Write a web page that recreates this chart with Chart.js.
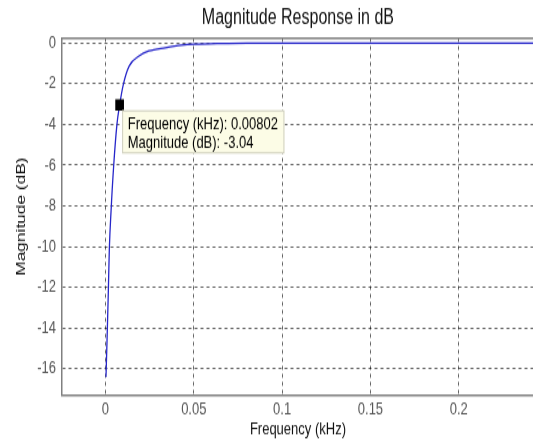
<!DOCTYPE html>
<html>
<head>
<meta charset="utf-8">
<script src="https://cdn.jsdelivr.net/npm/chart.js@4.4.1/dist/chart.umd.min.js"></script>
<style>
  html, body { margin: 0; padding: 0; background: #fff; overflow: hidden; }
  #wrap { width: 533px; height: 441px; overflow: hidden; }
  /* the reference picture is stretched vertically, so stretch the canvas the same way */
  #chart { transform: scale(1, 1.3323); transform-origin: 0 0; }
</style>
</head>
<body>
<div id="wrap"><canvas id="chart" width="540" height="331"></canvas></div>
<script>
// magnitude response
const freqKHz = [0.0003, 0.0009, 0.0016, 0.0022, 0.0032, 0.0046, 0.0065, 0.00802, 0.0102, 0.0134,
                 0.019, 0.0246, 0.0339, 0.043, 0.0506, 0.065, 0.08, 0.12, 0.25];
const magDB = [-16.4, -14.6, -12.3, -10.1, -8.2, -6.1, -4.0, -3.04, -2.0, -1.13,
               -0.64, -0.39, -0.23, -0.11, -0.06, -0.02, 0, 0, 0];

// data tip
const tipFreq = [0.00802];
const tipMag = [-3.04];

const xTicks = [0, 0.05, 0.1, 0.15, 0.2];
const xTickLabels = ['0', '0.05', '0.1', '0.15', '0.2'];
const yTicks = [0, -2, -4, -6, -8, -10, -12, -14, -16];
const yTickLabels = ['0', '-2', '-4', '-6', '-8', '-10', '-12', '-14', '-16'];
const xRange = [-0.0246, 0.2425];
const yRange = [-17.29, 0.246];

const FONT = '"Liberation Sans", Arial, sans-serif';
const GRID = 'rgba(0, 0, 0, 0.6)';
const AXIS = '#808080';

const dataTip = {
  id: 'dataTip',
  afterDatasetsDraw(chart) {
    const pt = chart.getDatasetMeta(1).data[0];
    const ctx = chart.ctx;
    const lines = [`Frequency (kHz): ${tipFreq[0]}`, `Magnitude (dB): ${tipMag[0]}`];
    ctx.save();
    ctx.font = '13px ' + FONT;
    const w = Math.max(...lines.map(l => ctx.measureText(l).width)) + 12;
    const bx = pt.x + 2.5;
    const by = pt.y + 4;
    ctx.fillStyle = '#fcfce6';
    ctx.fillRect(bx, by, w, 32.5);
    ctx.strokeStyle = '#cfcfbf';
    ctx.lineWidth = 1;
    ctx.strokeRect(bx + 0.5, by + 0.5, w - 1, 31.5);
    ctx.fillStyle = '#000';
    ctx.textBaseline = 'middle';
    ctx.fillText(lines[0], bx + 5.6, by + 10.5);
    ctx.fillText(lines[1], bx + 5.6, by + 24.5);
    ctx.restore();
  }
};

new Chart(document.getElementById('chart'), {
  type: 'line',
  data: {
    datasets: [
      {
        data: freqKHz.map((f, i) => ({ x: f, y: magDB[i] })),
        borderColor: '#2626c9',
        borderWidth: 1.3,
        pointRadius: 0,
        cubicInterpolationMode: 'monotone',
        order: 1,
      },
      {
        data: tipFreq.map((f, i) => ({ x: f, y: tipMag[i] })),
        showLine: false,
        pointStyle: 'rect',
        pointRadius: 6.15,
        backgroundColor: '#000',
        borderColor: '#000',
        borderWidth: 0,
        order: 0,
      },
    ],
  },
  options: {
    responsive: false,
    animation: false,
    layout: { padding: 0 },
    plugins: {
      legend: { display: false },
      tooltip: { enabled: false },
    },
    scales: {
      x: {
        type: 'linear',
        position: 'bottom',
        min: xRange[0],
        max: xRange[1],
        afterBuildTicks: s => { s.ticks = xTicks.map(v => ({ value: v })); },
        afterFit: s => { s.height = 34.5; },
        grid: { color: GRID, lineWidth: 1, drawTicks: false },
        border: { display: true, color: AXIS, width: 1.5, dash: [3, 3] },
        ticks: {
          color: '#555',
          font: { family: FONT, size: 13 },
          padding: 3.5,
          maxRotation: 0,
          callback: v => xTickLabels[xTicks.indexOf(v)],
        },
        title: {
          display: true,
          text: 'Frequency (kHz)',
          color: '#111',
          font: { family: FONT, size: 13 },
          padding: { top: 0, bottom: 1 },
        },
      },
      x2: {
        type: 'linear',
        position: 'top',
        afterFit: s => { s.height = 28.52; },
        grid: { display: false, drawTicks: false },
        border: { display: true, color: AXIS, width: 1.5 },
        ticks: { display: false },
        title: {
          display: true,
          text: 'Magnitude Response in dB',
          color: '#111',
          font: { family: FONT, size: 16 },
          padding: { top: 4.3, bottom: 0 },
        },
      },
      y: {
        type: 'linear',
        position: 'left',
        min: yRange[0],
        max: yRange[1],
        afterBuildTicks: s => { s.ticks = yTicks.map(v => ({ value: v })); },
        afterFit: s => { s.width = 62; },
        grid: { color: GRID, lineWidth: 1, drawTicks: false },
        border: { display: true, color: AXIS, width: 1.5, dash: [3, 3] },
        ticks: {
          color: '#555',
          font: { family: FONT, size: 13 },
          padding: 6,
          callback: v => yTickLabels[yTicks.indexOf(v)],
        },
        title: {
          display: true,
          text: 'Magnitude (dB)',
          color: '#111',
          font: { family: FONT, size: 13 },
          padding: { top: 13.9, bottom: 0 },
        },
      },
    },
  },
  plugins: [dataTip],
});
</script>
</body>
</html>
